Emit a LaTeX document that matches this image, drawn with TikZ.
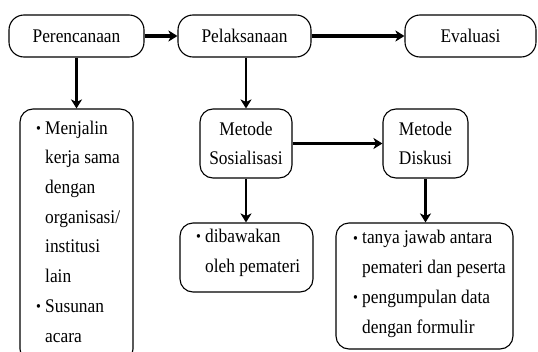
\documentclass[tikz,border=0pt]{standalone}
\usepackage{fontspec}
\setmainfont[FakeStretch=0.9]{Liberation Serif}
\usetikzlibrary{arrows.meta}
\newcommand\bul{\makebox[9pt][l]{\raisebox{0.5pt}{\scalebox{0.8}{\textbullet}}}}
\newcommand\ind{\makebox[9pt]{}}
\begin{document}
\begin{tikzpicture}[x=1pt,y=-1pt,
  box/.style={draw, line width=1.1pt, rounded corners=13pt, inner sep=0pt},
  arr/.style={line width=2.6pt, -{Stealth[length=9pt,width=11pt,inset=2.5pt]}},
  harr/.style={arr, line width=3.4pt},
  lbl/.style={font=\fontsize{19.3}{29.7}\selectfont},
  list/.style={lbl, inner sep=0pt, align=left, anchor=base west}]
\useasboundingbox (0,0) rectangle (538,351);
\begin{scope}
\clip (0,0) rectangle (538,351);
% top row
\node[box, lbl, minimum width=135pt, minimum height=42pt, rounded corners=15pt] (perenc) at (76.5,36) {Perencanaan};
\node[box, lbl, minimum width=133pt, minimum height=42pt, rounded corners=15pt] (pelak) at (244.5,36) {Pelaksanaan};
\node[box, lbl, minimum width=131pt, minimum height=42pt, rounded corners=15pt] (eval) at (470.5,36) {Evaluasi};
% second row
\node[box, minimum width=113pt, minimum height=253pt] (kiri) at (76.5,235.5) {};
\node[box, lbl, align=center, minimum width=92pt, minimum height=69pt] (sos) at (246,143.5) {Metode\\Sosialisasi};
\node[box, lbl, align=center, minimum width=85pt, minimum height=69pt] (disk) at (425.5,143.5) {Metode\\Diskusi};
% third row
\node[box, minimum width=133pt, minimum height=69pt] (dib) at (246.5,257.5) {};
\node[box, minimum width=177pt, minimum height=126pt] (tanya) at (424.5,286) {};
\end{scope}
% list texts (base = baseline of last line)
\node[list] (kiritxt) at (36,342) {\bul Menjalin\\\ind kerja sama\\\ind dengan\\\ind organisasi/\\\ind institusi\\\ind lain\\\bul Susunan\\\ind acara};
\node[list] (dibtxt) at (196,272) {\bul dibawakan\\\ind oleh pemateri};
\node[list] (tanyatxt) at (353,333) {\bul tanya jawab antara\\\ind pemateri dan peserta\\\bul pengumpulan data\\\ind dengan formulir};
% connectors
\draw[harr] (perenc.east) -- (pelak.west);
\draw[harr] (pelak.east) -- (eval.west);
\draw[arr] (perenc.south) -- (kiri.north);
\draw[arr] (sos.north |- pelak.south) -- (sos.north);
\draw[harr] (sos.east) -- (disk.west);
\draw[arr] (sos.south) -- (sos.south |- dib.north);
\draw[arr] (disk.south) -- (disk.south |- tanya.north);
\end{tikzpicture}
\end{document}
